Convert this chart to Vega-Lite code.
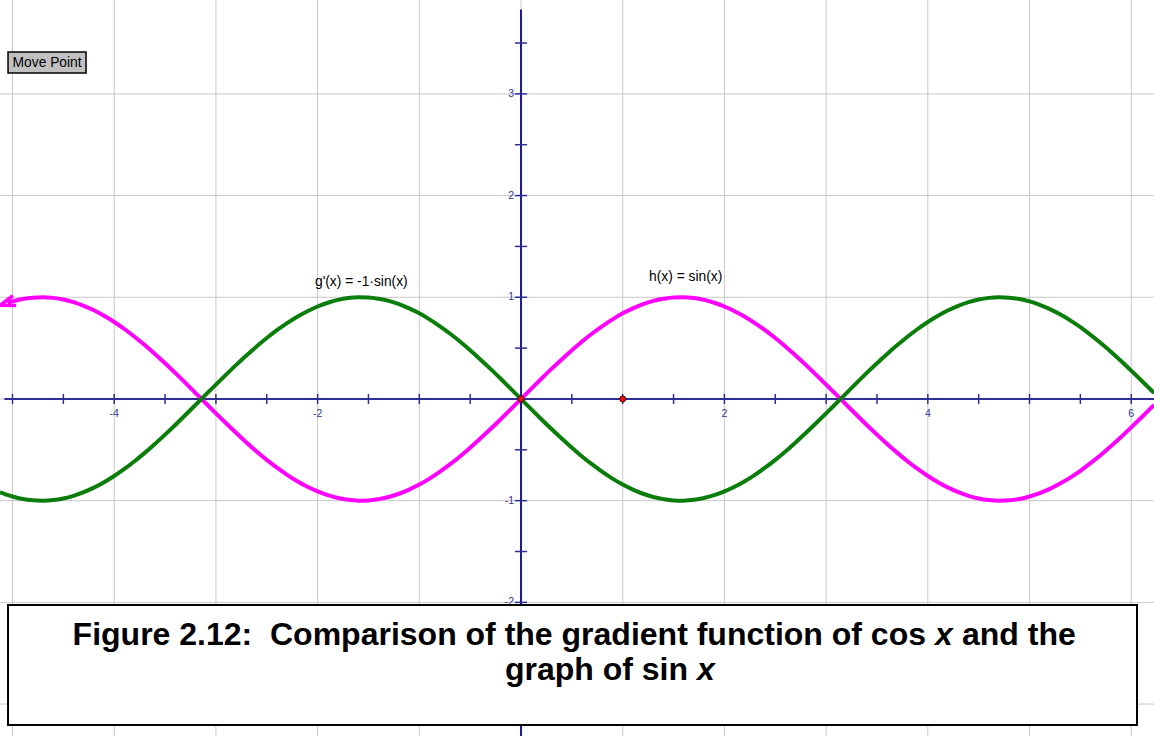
{
  "$schema": "https://vega.github.io/schema/vega-lite/v6.json",
  "width": 1154,
  "height": 736,
  "padding": 0,
  "autosize": {"type": "none"},
  "background": "white",
  "config": {"view": {"stroke": null}, "font": "Liberation Sans"},
  "datasets": {
    "curve": [
      {"x": -5.123, "g": -0.918},
      {"x": -5.1, "g": -0.926},
      {"x": -5.05, "h": 0.944, "g": -0.944},
      {"x": -5.0, "h": 0.959, "g": -0.959},
      {"x": -4.9, "h": 0.983, "g": -0.983},
      {"x": -4.8, "h": 0.996, "g": -0.996},
      {"x": -4.7, "h": 1.0, "g": -1.0},
      {"x": -4.6, "h": 0.994, "g": -0.994},
      {"x": -4.5, "h": 0.978, "g": -0.978},
      {"x": -4.4, "h": 0.952, "g": -0.952},
      {"x": -4.3, "h": 0.916, "g": -0.916},
      {"x": -4.2, "h": 0.872, "g": -0.872},
      {"x": -4.1, "h": 0.818, "g": -0.818},
      {"x": -4.0, "h": 0.757, "g": -0.757},
      {"x": -3.9, "h": 0.688, "g": -0.688},
      {"x": -3.8, "h": 0.612, "g": -0.612},
      {"x": -3.7, "h": 0.530, "g": -0.530},
      {"x": -3.6, "h": 0.443, "g": -0.443},
      {"x": -3.5, "h": 0.351, "g": -0.351},
      {"x": -3.4, "h": 0.256, "g": -0.256},
      {"x": -3.3, "h": 0.158, "g": -0.158},
      {"x": -3.2, "h": 0.058, "g": -0.058},
      {"x": -3.1, "h": -0.042, "g": 0.042},
      {"x": -3.0, "h": -0.141, "g": 0.141},
      {"x": -2.9, "h": -0.239, "g": 0.239},
      {"x": -2.8, "h": -0.335, "g": 0.335},
      {"x": -2.7, "h": -0.427, "g": 0.427},
      {"x": -2.6, "h": -0.516, "g": 0.516},
      {"x": -2.5, "h": -0.599, "g": 0.599},
      {"x": -2.4, "h": -0.676, "g": 0.676},
      {"x": -2.3, "h": -0.746, "g": 0.746},
      {"x": -2.2, "h": -0.809, "g": 0.809},
      {"x": -2.1, "h": -0.863, "g": 0.863},
      {"x": -2.0, "h": -0.909, "g": 0.909},
      {"x": -1.9, "h": -0.946, "g": 0.946},
      {"x": -1.8, "h": -0.974, "g": 0.974},
      {"x": -1.7, "h": -0.992, "g": 0.992},
      {"x": -1.6, "h": -1.0, "g": 1.0},
      {"x": -1.5, "h": -0.998, "g": 0.998},
      {"x": -1.4, "h": -0.985, "g": 0.985},
      {"x": -1.3, "h": -0.964, "g": 0.964},
      {"x": -1.2, "h": -0.932, "g": 0.932},
      {"x": -1.1, "h": -0.891, "g": 0.891},
      {"x": -1.0, "h": -0.842, "g": 0.842},
      {"x": -0.9, "h": -0.783, "g": 0.783},
      {"x": -0.8, "h": -0.717, "g": 0.717},
      {"x": -0.7, "h": -0.644, "g": 0.644},
      {"x": -0.6, "h": -0.565, "g": 0.565},
      {"x": -0.5, "h": -0.479, "g": 0.479},
      {"x": -0.4, "h": -0.389, "g": 0.389},
      {"x": -0.3, "h": -0.296, "g": 0.296},
      {"x": -0.2, "h": -0.199, "g": 0.199},
      {"x": -0.1, "h": -0.100, "g": 0.100},
      {"x": 0.0, "h": 0.0, "g": 0.0},
      {"x": 0.1, "h": 0.100, "g": -0.100},
      {"x": 0.2, "h": 0.199, "g": -0.199},
      {"x": 0.3, "h": 0.296, "g": -0.296},
      {"x": 0.4, "h": 0.389, "g": -0.389},
      {"x": 0.5, "h": 0.479, "g": -0.479},
      {"x": 0.6, "h": 0.565, "g": -0.565},
      {"x": 0.7, "h": 0.644, "g": -0.644},
      {"x": 0.8, "h": 0.717, "g": -0.717},
      {"x": 0.9, "h": 0.783, "g": -0.783},
      {"x": 1.0, "h": 0.842, "g": -0.842},
      {"x": 1.1, "h": 0.891, "g": -0.891},
      {"x": 1.2, "h": 0.932, "g": -0.932},
      {"x": 1.3, "h": 0.964, "g": -0.964},
      {"x": 1.4, "h": 0.985, "g": -0.985},
      {"x": 1.5, "h": 0.998, "g": -0.998},
      {"x": 1.6, "h": 1.0, "g": -1.0},
      {"x": 1.7, "h": 0.992, "g": -0.992},
      {"x": 1.8, "h": 0.974, "g": -0.974},
      {"x": 1.9, "h": 0.946, "g": -0.946},
      {"x": 2.0, "h": 0.909, "g": -0.909},
      {"x": 2.1, "h": 0.863, "g": -0.863},
      {"x": 2.2, "h": 0.809, "g": -0.809},
      {"x": 2.3, "h": 0.746, "g": -0.746},
      {"x": 2.4, "h": 0.676, "g": -0.676},
      {"x": 2.5, "h": 0.599, "g": -0.599},
      {"x": 2.6, "h": 0.516, "g": -0.516},
      {"x": 2.7, "h": 0.427, "g": -0.427},
      {"x": 2.8, "h": 0.335, "g": -0.335},
      {"x": 2.9, "h": 0.239, "g": -0.239},
      {"x": 3.0, "h": 0.141, "g": -0.141},
      {"x": 3.1, "h": 0.042, "g": -0.042},
      {"x": 3.2, "h": -0.058, "g": 0.058},
      {"x": 3.3, "h": -0.158, "g": 0.158},
      {"x": 3.4, "h": -0.256, "g": 0.256},
      {"x": 3.5, "h": -0.351, "g": 0.351},
      {"x": 3.6, "h": -0.443, "g": 0.443},
      {"x": 3.7, "h": -0.530, "g": 0.530},
      {"x": 3.8, "h": -0.612, "g": 0.612},
      {"x": 3.9, "h": -0.688, "g": 0.688},
      {"x": 4.0, "h": -0.757, "g": 0.757},
      {"x": 4.1, "h": -0.818, "g": 0.818},
      {"x": 4.2, "h": -0.872, "g": 0.872},
      {"x": 4.3, "h": -0.916, "g": 0.916},
      {"x": 4.4, "h": -0.952, "g": 0.952},
      {"x": 4.5, "h": -0.978, "g": 0.978},
      {"x": 4.6, "h": -0.994, "g": 0.994},
      {"x": 4.7, "h": -1.0, "g": 1.0},
      {"x": 4.8, "h": -0.996, "g": 0.996},
      {"x": 4.9, "h": -0.983, "g": 0.983},
      {"x": 5.0, "h": -0.959, "g": 0.959},
      {"x": 5.1, "h": -0.926, "g": 0.926},
      {"x": 5.2, "h": -0.884, "g": 0.884},
      {"x": 5.3, "h": -0.832, "g": 0.832},
      {"x": 5.4, "h": -0.773, "g": 0.773},
      {"x": 5.5, "h": -0.706, "g": 0.706},
      {"x": 5.6, "h": -0.631, "g": 0.631},
      {"x": 5.7, "h": -0.551, "g": 0.551},
      {"x": 5.8, "h": -0.465, "g": 0.465},
      {"x": 5.9, "h": -0.374, "g": 0.374},
      {"x": 6.0, "h": -0.279, "g": 0.279},
      {"x": 6.1, "h": -0.182, "g": 0.182},
      {"x": 6.2, "h": -0.083, "g": 0.083},
      {"x": 6.224, "h": -0.059, "g": 0.059}
    ],
    "xgrid": [{"v": -5}, {"v": -4}, {"v": -3}, {"v": -2}, {"v": -1}, {"v": 0}, {"v": 1}, {"v": 2}, {"v": 3}, {"v": 4}, {"v": 5}, {"v": 6}],
    "ygrid": [{"v": -3}, {"v": -2}, {"v": -1}, {"v": 0}, {"v": 1}, {"v": 2}, {"v": 3}],
    "xticks": [{"v": -5}, {"v": -4.5}, {"v": -4}, {"v": -3.5}, {"v": -3}, {"v": -2.5}, {"v": -2}, {"v": -1.5}, {"v": -1}, {"v": -0.5}, {"v": 0.5}, {"v": 1}, {"v": 1.5}, {"v": 2}, {"v": 2.5}, {"v": 3}, {"v": 3.5}, {"v": 4}, {"v": 4.5}, {"v": 5}, {"v": 5.5}, {"v": 6}],
    "yticks": [{"v": -3}, {"v": -2.5}, {"v": -2}, {"v": -1.5}, {"v": -1}, {"v": -0.5}, {"v": 0.5}, {"v": 1}, {"v": 1.5}, {"v": 2}, {"v": 2.5}, {"v": 3}, {"v": 3.5}],
    "xlabels": [{"v": -4, "label": "-4"}, {"v": -2, "label": "-2"}, {"v": 2, "label": "2"}, {"v": 4, "label": "4"}, {"v": 6, "label": "6"}],
    "ylabels": [{"v": -2, "label": "-2"}, {"v": -1, "label": "-1"}, {"v": 1, "label": "1"}, {"v": 2, "label": "2"}, {"v": 3, "label": "3"}],
    "points": [{"x": 0, "y": 0}, {"x": 1, "y": 0}]
  },
  "layer": [
    {
      "data": {"name": "xgrid"},
      "mark": {"type": "rule", "color": "#c8c8c8", "strokeWidth": 1},
      "encoding": {
        "x": {"field": "v", "type": "quantitative", "scale": {"domain": [-5.123, 6.224], "nice": false, "zero": false}, "axis": null}
      }
    },
    {
      "data": {"name": "ygrid"},
      "mark": {"type": "rule", "color": "#c8c8c8", "strokeWidth": 1},
      "encoding": {
        "y": {"field": "v", "type": "quantitative", "scale": {"domain": [-3.314, 3.923], "nice": false, "zero": false}, "axis": null}
      }
    },
    {
      "data": {"values": [{}]},
      "mark": {"type": "rule", "color": "#2e2e96", "strokeWidth": 2},
      "encoding": {
        "x": {"datum": -5.08, "type": "quantitative", "scale": {"domain": [-5.123, 6.224], "nice": false, "zero": false}, "axis": null},
        "x2": {"datum": 6.224},
        "y": {"datum": 0, "type": "quantitative", "scale": {"domain": [-3.314, 3.923], "nice": false, "zero": false}, "axis": null}
      }
    },
    {
      "data": {"values": [{}]},
      "mark": {"type": "rule", "color": "#1a1a99", "strokeWidth": 2},
      "encoding": {
        "x": {"datum": 0, "type": "quantitative", "scale": {"domain": [-5.123, 6.224], "nice": false, "zero": false}, "axis": null},
        "y": {"datum": 3.83, "type": "quantitative", "scale": {"domain": [-3.314, 3.923], "nice": false, "zero": false}, "axis": null},
        "y2": {"datum": -3.314}
      }
    },
    {
      "data": {"name": "xticks"},
      "mark": {"type": "rule", "color": "#2e2e96", "strokeWidth": 1.5},
      "encoding": {
        "x": {"field": "v", "type": "quantitative", "scale": {"domain": [-5.123, 6.224], "nice": false, "zero": false}, "axis": null},
        "y": {"datum": 0.05, "type": "quantitative", "scale": {"domain": [-3.314, 3.923], "nice": false, "zero": false}, "axis": null},
        "y2": {"datum": -0.05}
      }
    },
    {
      "data": {"name": "yticks"},
      "mark": {"type": "rule", "color": "#2e2e96", "strokeWidth": 1.5},
      "encoding": {
        "y": {"field": "v", "type": "quantitative", "scale": {"domain": [-3.314, 3.923], "nice": false, "zero": false}, "axis": null},
        "x": {"datum": -0.06, "type": "quantitative", "scale": {"domain": [-5.123, 6.224], "nice": false, "zero": false}, "axis": null},
        "x2": {"datum": 0.06}
      }
    },
    {
      "data": {"name": "xlabels"},
      "mark": {"type": "text", "color": "#333399", "fontSize": 10.5, "align": "center", "baseline": "top", "dy": 10, "font": "Liberation Sans"},
      "encoding": {
        "x": {"field": "v", "type": "quantitative", "scale": {"domain": [-5.123, 6.224], "nice": false, "zero": false}, "axis": null},
        "y": {"datum": 0, "type": "quantitative", "scale": {"domain": [-3.314, 3.923], "nice": false, "zero": false}, "axis": null},
        "text": {"field": "label", "type": "nominal"}
      }
    },
    {
      "data": {"name": "ylabels"},
      "mark": {"type": "text", "color": "#333399", "fontSize": 10.5, "align": "right", "baseline": "middle", "dx": -7, "font": "Liberation Sans"},
      "encoding": {
        "y": {"field": "v", "type": "quantitative", "scale": {"domain": [-3.314, 3.923], "nice": false, "zero": false}, "axis": null},
        "x": {"datum": 0, "type": "quantitative", "scale": {"domain": [-5.123, 6.224], "nice": false, "zero": false}, "axis": null},
        "text": {"field": "label", "type": "nominal"}
      }
    },
    {
      "data": {"name": "curve"},
      "mark": {"type": "line", "color": "#ff00ff", "strokeWidth": 4, "interpolate": "monotone"},
      "encoding": {
        "x": {"field": "x", "type": "quantitative", "scale": {"domain": [-5.123, 6.224], "nice": false, "zero": false}, "axis": null},
        "y": {"field": "h", "type": "quantitative", "scale": {"domain": [-3.314, 3.923], "nice": false, "zero": false}, "axis": null}
      }
    },
    {
      "data": {"name": "curve"},
      "mark": {"type": "line", "color": "#0b7d0b", "strokeWidth": 4, "interpolate": "monotone"},
      "encoding": {
        "x": {"field": "x", "type": "quantitative", "scale": {"domain": [-5.123, 6.224], "nice": false, "zero": false}, "axis": null},
        "y": {"field": "g", "type": "quantitative", "scale": {"domain": [-3.314, 3.923], "nice": false, "zero": false}, "axis": null}
      }
    },
    {
      "data": {"values": [{"x": -5.05, "y": 0.944}]},
      "mark": {"type": "point", "shape": "M 1 -0.7 L -1 0 L 1 0.7", "filled": false, "stroke": "#ff00ff", "strokeWidth": 3.5, "size": 220, "angle": -18, "opacity": 1},
      "encoding": {
        "x": {"field": "x", "type": "quantitative", "scale": {"domain": [-5.123, 6.224], "nice": false, "zero": false}, "axis": null},
        "y": {"field": "y", "type": "quantitative", "scale": {"domain": [-3.314, 3.923], "nice": false, "zero": false}, "axis": null}
      }
    },
    {
      "data": {"name": "points"},
      "mark": {"type": "point", "shape": "circle", "filled": true, "fill": "#ee1111", "stroke": "#550000", "strokeWidth": 1, "size": 36, "opacity": 1},
      "encoding": {
        "x": {"field": "x", "type": "quantitative", "scale": {"domain": [-5.123, 6.224], "nice": false, "zero": false}, "axis": null},
        "y": {"field": "y", "type": "quantitative", "scale": {"domain": [-3.314, 3.923], "nice": false, "zero": false}, "axis": null}
      }
    },
    {
      "data": {"values": [{"x": -2.026, "y": 1.15, "label": "g'(x) = -1·sin(x)"}, {"x": 1.259, "y": 1.2, "label": "h(x) = sin(x)"}]},
      "mark": {"type": "text", "align": "left", "baseline": "middle", "fontSize": 13.8, "color": "#000000", "font": "Liberation Sans"},
      "encoding": {
        "x": {"field": "x", "type": "quantitative", "scale": {"domain": [-5.123, 6.224], "nice": false, "zero": false}, "axis": null},
        "y": {"field": "y", "type": "quantitative", "scale": {"domain": [-3.314, 3.923], "nice": false, "zero": false}, "axis": null},
        "text": {"field": "label", "type": "nominal"}
      }
    },
    {
      "data": {"values": [{}]},
      "mark": {"type": "rect", "fill": "#c0c0c0", "stroke": "#000000", "strokeWidth": 1.5},
      "encoding": {
        "x": {"datum": -5.044, "type": "quantitative", "scale": {"domain": [-5.123, 6.224], "nice": false, "zero": false}, "axis": null},
        "x2": {"datum": -4.277},
        "y": {"datum": 3.412, "type": "quantitative", "scale": {"domain": [-3.314, 3.923], "nice": false, "zero": false}, "axis": null},
        "y2": {"datum": 3.205}
      }
    },
    {
      "data": {"values": [{"x": -4.66, "y": 3.305, "label": "Move Point"}]},
      "mark": {"type": "text", "align": "center", "baseline": "middle", "fontSize": 13.8, "color": "#000000", "font": "Liberation Sans"},
      "encoding": {
        "x": {"field": "x", "type": "quantitative", "scale": {"domain": [-5.123, 6.224], "nice": false, "zero": false}, "axis": null},
        "y": {"field": "y", "type": "quantitative", "scale": {"domain": [-3.314, 3.923], "nice": false, "zero": false}, "axis": null},
        "text": {"field": "label", "type": "nominal"}
      }
    },
    {
      "data": {"values": [{}]},
      "mark": {"type": "rect", "fill": "#ffffff", "stroke": "#000000", "strokeWidth": 2},
      "encoding": {
        "x": {"datum": -5.044, "type": "quantitative", "scale": {"domain": [-5.123, 6.224], "nice": false, "zero": false}, "axis": null},
        "x2": {"datum": 6.057},
        "y": {"datum": -2.026, "type": "quantitative", "scale": {"domain": [-3.314, 3.923], "nice": false, "zero": false}, "axis": null},
        "y2": {"datum": -3.206}
      }
    },
    {
      "data": {"values": [
        {"x": 3.982, "y": -2.419, "label": "Figure 2.12: \u00a0Comparison of the gradient function of cos"},
        {"x": 1.642, "y": -2.763, "label": "graph of sin"}
      ]},
      "mark": {"type": "text", "align": "right", "baseline": "alphabetic", "fontSize": 32, "fontWeight": "bold", "color": "#000000", "font": "Liberation Sans"},
      "encoding": {
        "x": {"field": "x", "type": "quantitative", "scale": {"domain": [-5.123, 6.224], "nice": false, "zero": false}, "axis": null},
        "y": {"field": "y", "type": "quantitative", "scale": {"domain": [-3.314, 3.923], "nice": false, "zero": false}, "axis": null},
        "text": {"field": "label", "type": "nominal"}
      }
    },
    {
      "data": {"values": [
        {"x": 4.071, "y": -2.419, "label": "x"},
        {"x": 1.731, "y": -2.763, "label": "x"}
      ]},
      "mark": {"type": "text", "align": "left", "baseline": "alphabetic", "fontSize": 32, "fontWeight": "bold", "fontStyle": "italic", "color": "#000000", "font": "Liberation Sans"},
      "encoding": {
        "x": {"field": "x", "type": "quantitative", "scale": {"domain": [-5.123, 6.224], "nice": false, "zero": false}, "axis": null},
        "y": {"field": "y", "type": "quantitative", "scale": {"domain": [-3.314, 3.923], "nice": false, "zero": false}, "axis": null},
        "text": {"field": "label", "type": "nominal"}
      }
    },
    {
      "data": {"values": [
        {"x": 4.336, "y": -2.419, "label": "and the"}
      ]},
      "mark": {"type": "text", "align": "left", "baseline": "alphabetic", "fontSize": 32, "fontWeight": "bold", "color": "#000000", "font": "Liberation Sans"},
      "encoding": {
        "x": {"field": "x", "type": "quantitative", "scale": {"domain": [-5.123, 6.224], "nice": false, "zero": false}, "axis": null},
        "y": {"field": "y", "type": "quantitative", "scale": {"domain": [-3.314, 3.923], "nice": false, "zero": false}, "axis": null},
        "text": {"field": "label", "type": "nominal"}
      }
    }
  ]
}
